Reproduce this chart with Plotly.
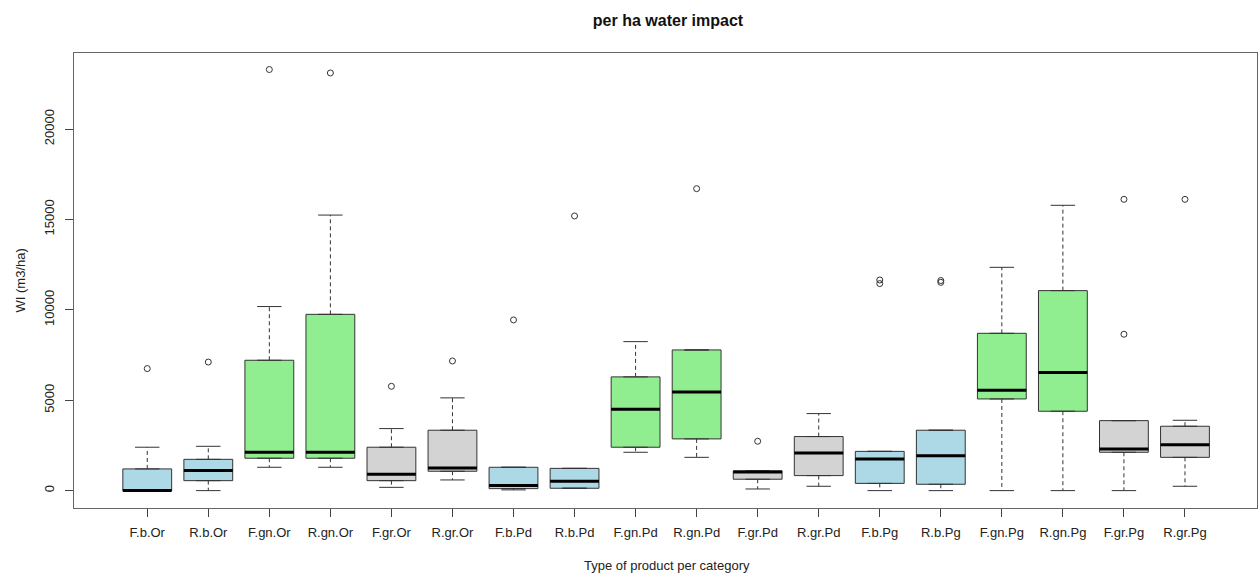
import plotly.graph_objects as go

categories = ["F.b.Or", "R.b.Or", "F.gn.Or", "R.gn.Or", "F.gr.Or", "R.gr.Or",
              "F.b.Pd", "R.b.Pd", "F.gn.Pd", "R.gn.Pd", "F.gr.Pd", "R.gr.Pd",
              "F.b.Pg", "R.b.Pg", "F.gn.Pg", "R.gn.Pg", "F.gr.Pg", "R.gr.Pg"]
whisker_low = [0, 0, 1290, 1290, 180, 590, 40, 130, 2120, 1840, 90, 240, 0, 0, 0, 0, 0, 240]
q1 = [0, 550, 1790, 1790, 550, 1070, 110, 130, 2400, 2860, 630, 830, 400, 350, 5070, 4390, 2120, 1840]
medians = [0, 1110, 2120, 2120, 900, 1250, 280, 520, 4500, 5460, 1030, 2080, 1750, 1930, 5550, 6530, 2300, 2540]
q3 = [1200, 1730, 7210, 9750, 2400, 3340, 1290, 1230, 6290, 7780, 1090, 2990, 2170, 3340, 8700, 11060, 3870, 3560]
whisker_high = [2400, 2450, 10180, 15240, 3430, 5130, 1290, 1230, 8240, 7780, 1090, 4260, 2170, 3340, 12350, 15780, 3870, 3890]
outliers = [[6750], [7110], [23290], [23100], [5770], [7170],
            [9440], [15190], [], [16700], [2730], [],
            [11650, 11450], [11620, 11520], [], [], [16110, 8650], [16110]]
y_ticks = [0, 5000, 10000, 15000, 20000]

fills = {"b": "#ADD8E6", "gn": "#90EE90", "gr": "#D3D3D3"}
edge = "#333333"
boxw = 0.8
capw = 0.4

fig = go.Figure()
pos = list(range(1, len(categories) + 1))

for i, c in enumerate(categories):
    grp = c.split(".")[1]
    fig.add_trace(go.Box(
        x=[pos[i]], q1=[q1[i]], median=[medians[i]], q3=[q3[i]],
        lowerfence=[q1[i]], upperfence=[q3[i]],
        width=boxw, fillcolor=fills[grp],
        line=dict(color=edge, width=1), boxpoints=False,
        showlegend=False, hoverinfo="skip"))

# dashed whiskers
wx, wy = [], []
for i in range(len(categories)):
    wx += [pos[i], pos[i], None, pos[i], pos[i], None]
    wy += [q3[i], whisker_high[i], None, q1[i], whisker_low[i], None]
fig.add_trace(go.Scatter(x=wx, y=wy, mode="lines",
                         line=dict(color=edge, width=1, dash="4px,3px"),
                         showlegend=False, hoverinfo="skip"))
# staples
sx, sy = [], []
for i in range(len(categories)):
    for v in (whisker_high[i], whisker_low[i]):
        sx += [pos[i] - capw / 2, pos[i] + capw / 2, None]
        sy += [v, v, None]
fig.add_trace(go.Scatter(x=sx, y=sy, mode="lines",
                         line=dict(color=edge, width=1),
                         showlegend=False, hoverinfo="skip"))
# thick medians
mx, my = [], []
for i in range(len(categories)):
    mx += [pos[i] - boxw / 2, pos[i] + boxw / 2, None]
    my += [medians[i], medians[i], None]
fig.add_trace(go.Scatter(x=mx, y=my, mode="lines",
                         line=dict(color="black", width=3),
                         showlegend=False, hoverinfo="skip"))
# outliers
ox, oy = [], []
for i in range(len(categories)):
    for v in outliers[i]:
        ox.append(pos[i])
        oy.append(v)
fig.add_trace(go.Scatter(x=ox, y=oy, mode="markers",
                         marker=dict(symbol="circle-open", size=6,
                                     color=edge, line=dict(width=1)),
                         showlegend=False, hoverinfo="skip"))

font = "Liberation Sans, Arial, sans-serif"
fig.update_layout(
    width=1258, height=575,
    margin=dict(l=74, r=1, t=53, b=67),
    paper_bgcolor="white", plot_bgcolor="white",
    boxmode="overlay",
    font=dict(family=font, size=13, color="#222222"),
    title=dict(text="<b>per ha water impact</b>", x=0.531, xanchor="center",
               y=1 - 20 / 575, yanchor="middle",
               font=dict(size=16, color="#111111")),
    xaxis=dict(range=[-0.2, 19.18], tickmode="array", tickvals=pos,
               ticktext=categories, showgrid=False, zeroline=False,
               showline=True, mirror=True, linecolor="#666666", linewidth=1,
               ticks="outside", ticklen=8, tickcolor="#444444",
               ticklabelstandoff=4,
               tickfont=dict(size=13, color="#222222")),
    yaxis=dict(range=[-962, 24204], tickmode="array", tickvals=y_ticks,
               ticktext=[str(v) for v in y_ticks], tickangle=-90,
               showgrid=False, zeroline=False,
               showline=True, mirror=True, linecolor="#666666", linewidth=1,
               ticks="outside", ticklen=8, tickcolor="#444444",
               ticklabelstandoff=6,
               tickfont=dict(size=13, color="#222222")),
    annotations=[
        dict(text="Type of product per category", xref="paper", yref="paper",
             x=(667 - 74) / (1257 - 74), y=0, xanchor="center", yanchor="middle",
             yshift=-57, showarrow=False, font=dict(size=13, color="#222222")),
        dict(text="WI (m3/ha)", xref="paper", yref="paper",
             x=0, y=0.5, xanchor="center", yanchor="middle", xshift=-54,
             textangle=-90, showarrow=False, font=dict(size=13, color="#222222")),
    ],
)

fig.write_html("out.html", config={"displayModeBar": False},
               post_script="document.body.style.margin='0';document.body.style.overflow='hidden';")
